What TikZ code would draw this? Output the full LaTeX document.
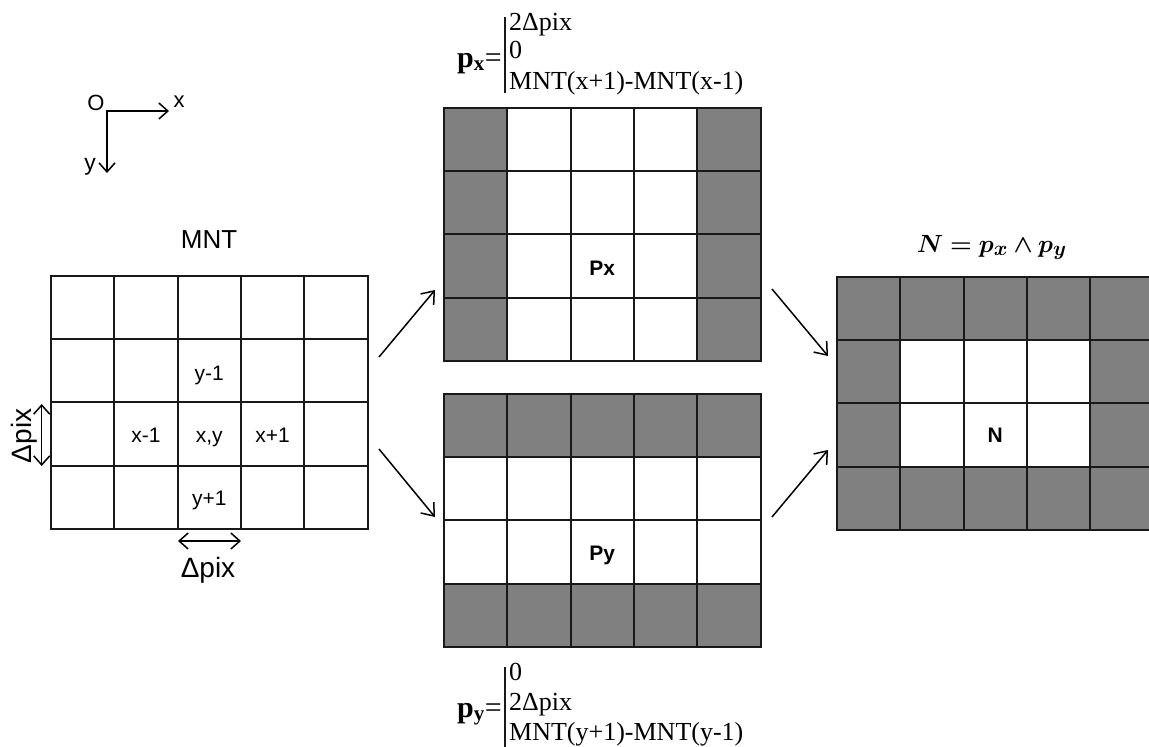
\documentclass[tikz,border=0pt]{standalone}
\usepackage{fontspec}
\usepackage{bm}
\usetikzlibrary{arrows.meta}
\newfontfamily\arialf{Liberation Sans}
\newfontfamily\serff{Liberation Serif}
\definecolor{cellgray}{HTML}{808080}
\newcommand{\cellgrid}[2]{%
  \foreach \k in {0,...,5} \draw[gline] ({#1+\k*63.3},{#2}) -- ({#1+\k*63.3},{#2+252.8});
  \foreach \k in {0,...,4} \draw[gline] ({#1-1},{#2+\k*63.2}) -- ({#1+317.5},{#2+\k*63.2});
}
\begin{document}
\begin{tikzpicture}[x=1pt,y=-1pt,
  gline/.style={line width=2pt, draw=black!90},
  arr/.style={line width=1.5pt, -{Straight Barb[length=11pt,width=17pt]}},
  dblarr/.style={line width=1.5pt, {Straight Barb[length=9pt,width=16pt]}-{Straight Barb[length=9pt,width=16pt]}},
  lbl/.style={font=\arialf\fontsize{21}{25}\selectfont, inner sep=0pt, anchor=base},
  blbl/.style={font=\arialf\bfseries\fontsize{21}{25}\selectfont, inner sep=0pt, anchor=base},
  fml/.style={font=\serff\fontsize{26}{30}\selectfont, inner sep=0pt, anchor=base west},
  fmlhead/.style={font=\serff\fontsize{30}{34}\selectfont, inner sep=0pt, anchor=base east},
  bar/.style={line width=2pt, draw=black!90}
]
\clip (0,0) rectangle (1149,747);
\fill[white] (0,0) rectangle (1149,747);

% ---- axes ----
\coordinate (orig) at (107,111);
\coordinate (xend) at (169,111);
\coordinate (yend) at (107,173);
\draw[dblarr, line join=miter] (xend) -- (orig) -- (yend);
\node[font=\arialf\fontsize{22}{26}\selectfont, inner sep=0pt] (olbl) at (96,103) {O};
\node[font=\arialf\fontsize{22}{26}\selectfont, inner sep=0pt, anchor=base] (xlbl) at (179,107) {x};
\node[font=\arialf\fontsize{23}{26}\selectfont, inner sep=0pt, anchor=base] (ylbl) at (90,170) {y};

% ---- MNT grid ----
\node[font=\arialf\fontsize{26}{30}\selectfont, inner sep=0pt, anchor=base] (mntt) at (209,248) {MNT};
\cellgrid{51}{276}
\node[lbl] (ym1) at (209.25,380) {y-1};
\node[lbl] (xm1) at (145.95,442) {x-1};
\node[lbl] (xy)  at (209.25,442) {x,y};
\node[lbl] (xp1) at (272.55,442) {x+1};
\node[lbl] (yp1) at (209.25,505) {y+1};
\coordinate (hs) at (178,541);
\coordinate (he) at (241,541);
\draw[dblarr] (hs) -- (he);
\node[font=\arialf\fontsize{28}{30}\selectfont, inner sep=0pt, anchor=base] (dph) at (208,577) {Δpix};
\coordinate (vs) at (41.7,404);
\coordinate (ve) at (41.7,466);
\draw[dblarr] (vs) -- (ve);
\node[font=\arialf\fontsize{28}{30}\selectfont, inner sep=0pt, anchor=base, rotate=90] (dpv) at (31,436) {Δpix};

% ---- Px grid ----
\fill[cellgray] (444,108) rectangle ++(63.3,252.8);
\fill[cellgray] (697.2,108) rectangle ++(63.3,252.8);
\cellgrid{444}{108}
\node[blbl] (pxt) at (602.25,275) {Px};

% ---- Py grid ----
\fill[cellgray] (444,394) rectangle ++(316.5,63.2);
\fill[cellgray] (444,583.6) rectangle ++(316.5,63.2);
\cellgrid{444}{394}
\node[blbl] (pyt) at (602.25,560) {Py};

% ---- N grid ----
\fill[cellgray] (837,277) rectangle ++(316.5,252.8);
\fill[white] (900.3,340.2) rectangle ++(189.9,126.4);
\cellgrid{837}{277}
\node[blbl] (nt) at (995.25,442) {N};
\node[font=\Huge, inner sep=0pt, anchor=base] (nform) at (991.7,252) {$\bm{N = p_{x} \wedge p_{y}}$};

% ---- arrows ----
\coordinate (a1s) at (379,357); \coordinate (a1e) at (435,290);
\coordinate (a2s) at (379,449); \coordinate (a2e) at (435,517);
\coordinate (a3s) at (772,289); \coordinate (a3e) at (828,356);
\coordinate (a4s) at (772,517); \coordinate (a4e) at (828,450);
\draw[arr] (a1s) -- (a1e);
\draw[arr] (a2s) -- (a2e);
\draw[arr] (a3s) -- (a3e);
\draw[arr] (a4s) -- (a4e);

% ---- p_x formula ----
\node[fmlhead] (pxh) at (502,67) {\textbf{p}\textsubscript{\textbf{x}}=};
\coordinate (pxbt) at (505,17);
\coordinate (pxbb) at (505,93);
\draw[bar] (pxbt) -- (pxbb);
\node[fml] (px1) at (509,30) {2Δpix};
\node[fml] (px2) at (509,58.5) {0};
\node[fml] (px3) at (509,89) {MNT(x+1)-MNT(x-1)};

% ---- p_y formula ----
\node[fmlhead] (pyh) at (502,717) {\textbf{p}\textsubscript{\textbf{y}}=};
\coordinate (pybt) at (505,667);
\coordinate (pybb) at (505,747);
\draw[bar] (pybt) -- (pybb);
\node[fml] (py1) at (509,680) {0};
\node[fml] (py2) at (509,710) {2Δpix};
\node[fml] (py3) at (509,740) {MNT(y+1)-MNT(y-1)};
\end{tikzpicture}
\end{document}
